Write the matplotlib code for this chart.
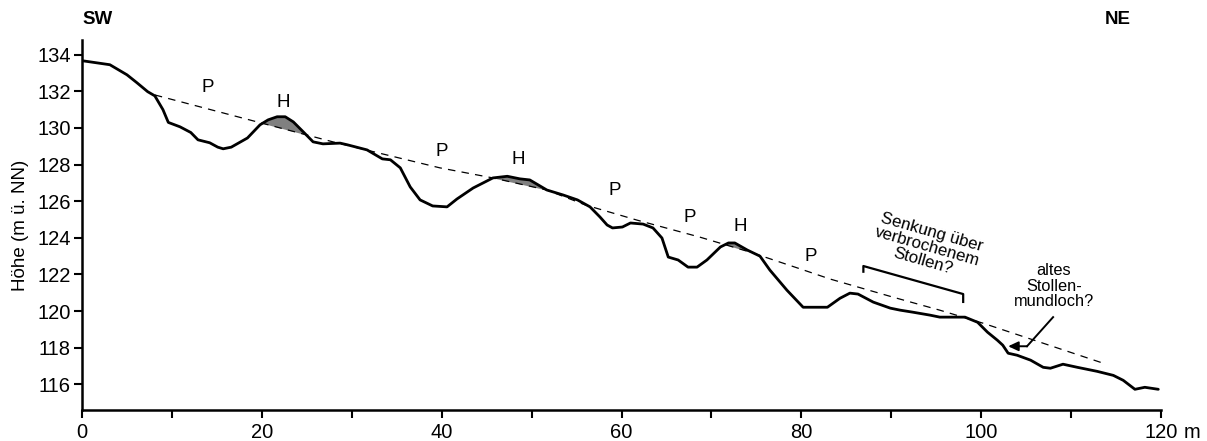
import matplotlib.pyplot as plt
import numpy as np

# terrain profile: distance (m) and height (m ü. NN)
profile_dist = [0.0, 3.1, 5.0, 6.1, 7.3, 8.1, 9.0, 9.6, 10.9, 12.1, 12.9, 14.2, 15.1, 15.7,
                16.6, 18.4, 19.8, 20.7, 21.7, 22.6, 23.5, 24.6, 25.7, 26.8, 28.7, 29.5,
                31.7, 33.4, 34.3, 35.4, 36.5, 37.6, 39.0, 40.6, 41.7, 43.5, 45.7, 47.3,
                48.7, 49.8, 51.7, 53.5, 55.1, 56.5, 57.6, 58.4, 59.0, 60.1, 61.0, 62.4,
                63.5, 64.5, 65.2, 66.3, 67.4, 68.4, 69.5, 71.0, 71.9, 72.6, 74.0, 75.4,
                76.5, 78.4, 80.2, 82.9, 84.3, 85.4, 86.3, 88.0, 89.9, 91.0, 92.4, 94.3,
                95.4, 96.9, 98.2, 99.6, 100.7, 101.8, 102.4, 103.0, 104.0, 105.5, 106.9,
                107.7, 109.1, 110.7, 112.9, 114.7, 115.8, 117.1, 118.2, 119.7]
profile_height = [133.67, 133.45, 132.9, 132.47, 131.98, 131.75, 131.0, 130.3, 130.06, 129.75,
                  129.35, 129.19, 128.95, 128.86, 128.95, 129.45, 130.17, 130.44, 130.61,
                  130.61, 130.33, 129.79, 129.24, 129.13, 129.17, 129.08, 128.8, 128.31,
                  128.26, 127.82, 126.78, 126.07, 125.74, 125.69, 126.12, 126.72, 127.27,
                  127.36, 127.22, 127.16, 126.61, 126.34, 126.07, 125.69, 125.14, 124.7,
                  124.54, 124.59, 124.81, 124.75, 124.54, 123.99, 122.95, 122.79, 122.4,
                  122.4, 122.79, 123.5, 123.72, 123.72, 123.33, 123.0, 122.24, 121.14,
                  120.21, 120.21, 120.7, 120.98, 120.93, 120.49, 120.16, 120.05, 119.94,
                  119.78, 119.67, 119.67, 119.67, 119.39, 118.85, 118.41, 118.14, 117.7,
                  117.59, 117.32, 116.93, 116.88, 117.1, 116.93, 116.71, 116.49, 116.22,
                  115.73, 115.84, 115.73]

# reconstructed original slope surface (dashed)
slope_dist = [8.1, 27.9, 39.8, 45.7, 51.7, 56.0, 61.7, 68.7, 74.3, 79.9, 83.2, 90.2, 95.4,
              100.2, 113.6]
slope_height = [131.8, 129.24, 127.82, 127.27, 126.61, 125.79, 124.97, 124.04, 123.22,
                122.3, 121.75, 120.76, 120.05, 119.34, 117.15]

# spoil heap (H) ranges and labels
heap_ranges = [(19.0, 26.0), (44.0, 52.5), (70.0, 76.5)]
labels = ["P", "H", "P", "H", "P", "P", "H", "P"]
label_x = [14.0, 22.4, 40.0, 48.5, 59.2, 67.6, 73.2, 81.0]
label_y = [132.2, 131.4, 128.7, 128.25, 126.6, 125.1, 124.6, 123.0]

bracket_x = [86.9, 86.9, 98.0, 98.0]
bracket_y = [122.15, 122.46, 120.93, 120.5]
arrow_x = [108.0, 105.1, 103.0]
arrow_y = [119.67, 118.08, 118.08]

plt.rcParams['font.family'] = ['Liberation Sans', 'DejaVu Sans']

fig = plt.figure(figsize=(12.07, 4.41), dpi=100)
ax = fig.add_axes([82 / 1207, 1 - 410 / 441, 1079 / 1207, 370 / 441])

pd_arr = np.array(profile_dist)
ph_arr = np.array(profile_height)
for lo, hi in heap_ranges:
    m = (pd_arr >= lo) & (pd_arr <= hi)
    xs = pd_arr[m]
    top = ph_arr[m]
    base = np.interp(xs, slope_dist, slope_height)
    ax.fill_between(xs, top, base, where=top > base, interpolate=True,
                    color="#808080", lw=0)

ax.plot(slope_dist, slope_height, color="black", lw=0.9, ls=(0, (6, 5)))
ax.plot(profile_dist, profile_height, color="black", lw=2.0,
        solid_capstyle="round", solid_joinstyle="round")

for t, x, y in zip(labels, label_x, label_y):
    ax.text(x, y, t, fontsize=13.5, ha="center", va="center")

ax.plot(bracket_x, bracket_y, color="black", lw=1.6)
ax.text(94.0, 123.5, "Senkung über\nverbrochenem\nStollen?", fontsize=12.2,
        ha="center", va="center", rotation=-16, linespacing=1.0, rotation_mode="anchor")

ax.plot(arrow_x[:2], arrow_y[:2], color="black", lw=1.4)
ax.annotate("", xy=(arrow_x[2], arrow_y[2]), xytext=(arrow_x[1], arrow_y[1]),
            arrowprops=dict(arrowstyle="-|>,head_length=0.6,head_width=0.28",
                            color="black", lw=1.4, shrinkA=0, shrinkB=0))
ax.text(108.1, 121.36, "altes\nStollen-\nmundloch?", fontsize=11.8, ha="center",
        va="center", linespacing=1.05)

ax.set_xlim(0, 120)
ax.set_ylim(114.6, 134.8)
ax.set_xticks(range(0, 121, 20))
ax.set_xticks(range(10, 120, 20), minor=True)
ax.set_yticks(range(116, 135, 2))
ax.tick_params(axis="both", which="both", direction="out", length=6, width=1.5,
               labelsize=14.5, colors="black")
ax.tick_params(axis="x", pad=3)
ax.tick_params(axis="y", pad=2)
for s in ["top", "right"]:
    ax.spines[s].set_visible(False)
for s in ["left", "bottom"]:
    ax.spines[s].set_linewidth(1.8)

ax.set_ylabel("Höhe (m ü. NN)", fontsize=13.5)
ax.yaxis.set_label_coords(-0.049, 0.5)
ax.annotate("m", xy=(120, 0), xycoords=("data", "axes fraction"), xytext=(16, -9),
            textcoords="offset points", fontsize=14.5, ha="left", va="top")

fig.text(98 / 1207, 1 - 20 / 441, "SW", fontsize=13.5, fontweight="bold", ha="center", va="center")
fig.text(1118 / 1207, 1 - 19 / 441, "NE", fontsize=13.5, fontweight="bold", ha="center", va="center")

fig.savefig("out.png", dpi=100)
